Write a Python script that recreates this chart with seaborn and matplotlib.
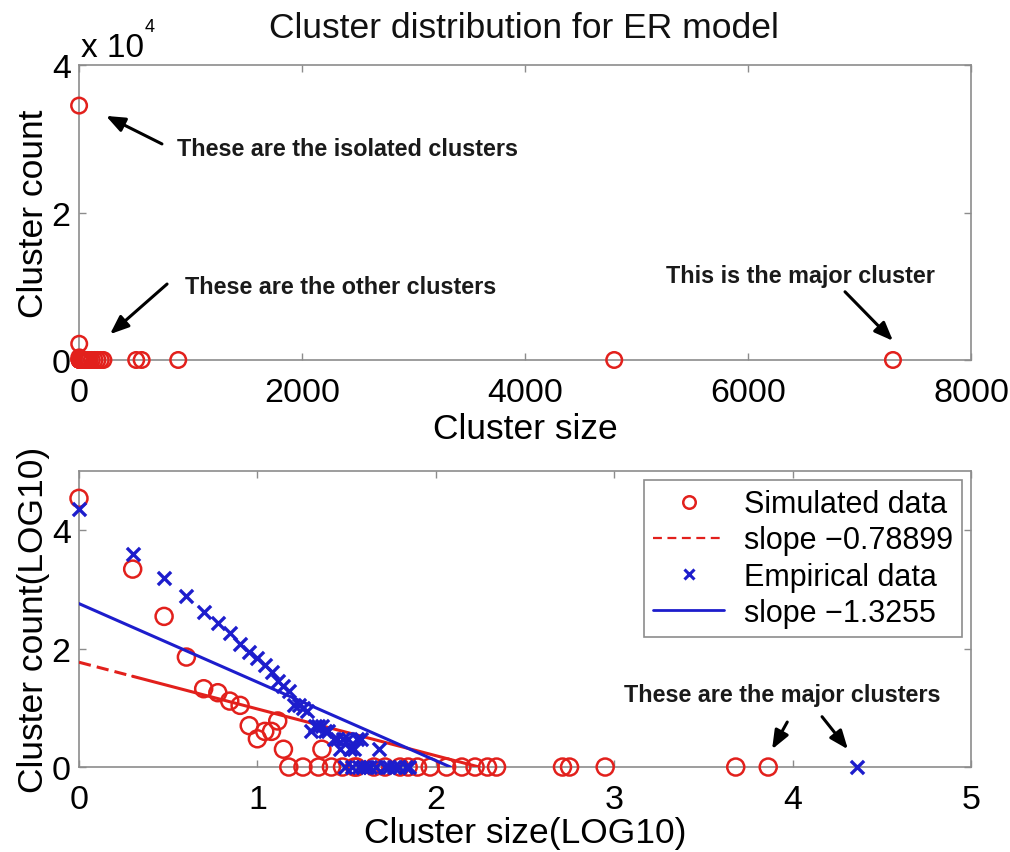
import numpy as np
import pandas as pd
import matplotlib
matplotlib.use("Agg")
import matplotlib.pyplot as plt
from matplotlib.lines import Line2D
from matplotlib.ticker import FuncFormatter
import seaborn as sns

# Simulated ER network: cluster size -> number of clusters of that size
sim_sizes = [1, 2, 3, 4, 5, 6, 7, 8, 9, 10, 11, 12, 13, 14, 15, 18, 22, 23, 26,
             30, 35, 36, 45, 52, 63, 70, 79, 93, 115, 140, 166, 195, 219,
             513, 562, 890, 4800, 7300]
sim_counts = [34500, 2200, 350, 72, 21, 18, 13, 11, 5, 3, 4, 4, 6, 2, 1, 1, 1, 2, 1,
              1, 1, 1, 1, 1, 1, 1, 1, 1, 1, 1, 1, 1, 1,
              1, 1, 1, 1, 1]

# Empirical network: cluster size -> number of clusters of that size
emp_sizes = [1, 2, 3, 4, 5, 6, 7, 8, 9, 10, 11, 12, 13, 14, 15, 16, 17, 18, 19, 20,
             21, 22, 23, 24, 25, 27, 28, 29, 30, 32, 33, 35, 36, 38, 48,
             31, 34, 37, 39, 41, 43, 46, 52, 55, 58, 62, 68, 71, 22900]
emp_counts = [23000, 4000, 1550, 780, 420, 270, 180, 120, 87, 70, 52, 40, 28, 23, 19,
              11, 11, 10, 9, 4,
              5, 5, 5, 4, 4, 3, 3, 2, 3, 3, 2, 2, 3, 3, 2,
              1, 1, 1, 1, 1, 1, 1, 1, 1, 1, 1, 1, 1, 1]

# Least-squares fits in log-log space
sim_slope, sim_intercept = -0.78899, 1.77
emp_slope, emp_intercept = -1.3255, 2.76

legend_labels = ["Simulated data", "slope \u22120.78899",
                 "Empirical data", "slope \u22121.3255"]

sns.set_theme(style="white")
plt.rcParams["font.family"] = ["Liberation Sans", "DejaVu Sans"]
plt.rcParams["text.color"] = "black"
plt.rcParams["axes.labelcolor"] = "black"

RED = "#e2201c"
BLUE = "#1d1dcc"
AXIS_GRAY = "#8c8c8c"
TEXT = "#111111"

sim = pd.DataFrame({"size": sim_sizes, "count": sim_counts})
sim["log_size"] = np.log10(sim["size"])
sim["log_count"] = np.log10(sim["count"])
emp = pd.DataFrame({"size": emp_sizes, "count": emp_counts})
emp["log_size"] = np.log10(emp["size"])
emp["log_count"] = np.log10(emp["count"])

fig = plt.figure(figsize=(10.10, 8.53), dpi=100)
ax1 = fig.add_axes([0.0782, 0.5768, 0.8832, 0.3458])
ax2 = fig.add_axes([0.0782, 0.0996, 0.8832, 0.3471])


def style_axes(ax):
    for sp in ax.spines.values():
        sp.set_color(AXIS_GRAY)
        sp.set_linewidth(1.2)
        sp.set_visible(True)
    ax.tick_params(direction="in", length=5, width=1, colors=AXIS_GRAY,
                   labelcolor="black", labelsize=24.5, top=True, right=True,
                   bottom=True, left=True)
    ax.tick_params(axis="x", pad=12)
    ax.tick_params(axis="y", pad=6)
    ax.set_facecolor("white")


# ---- Linear-scale distribution ----
sns.scatterplot(data=sim, x="size", y="count", ax=ax1, marker="o", s=125,
                facecolors="none", edgecolor=RED, linewidth=1.8,
                legend=False, clip_on=False, zorder=3)
ax1.set_xlim(0, 8000)
ax1.set_ylim(0, 40000)
ax1.set_xticks([0, 2000, 4000, 6000, 8000])
ax1.set_yticks([0, 20000, 40000])
ax1.yaxis.set_major_formatter(FuncFormatter(lambda v, p: f"{v / 1e4:g}"))
style_axes(ax1)
ax1.set_xlabel("Cluster size", fontsize=25.5, labelpad=3)
ax1.set_ylabel("Cluster count", fontsize=25.5, labelpad=1)

ax1.text(0.002, 1.03, "x 10", transform=ax1.transAxes, fontsize=24,
         ha="left", va="baseline", color="black")
ax1.text(0.074, 1.115, "4", transform=ax1.transAxes, fontsize=13,
         ha="left", va="baseline", color="black")

fig.text(0.519, 1 - 38 / 853, "Cluster distribution for ER model",
         fontsize=25.5, ha="center", va="baseline", color=TEXT)

arrow_kw = dict(arrowstyle="-|>,head_length=0.75,head_width=0.3",
                mutation_scale=15, lw=2.2, color="black",
                shrinkA=0, shrinkB=0)
note_kw = dict(fontsize=16.8, fontweight="bold", color="#1a1a1a")

ax1.text(880, 28700, "These are the isolated clusters", ha="left",
         va="center", **note_kw)
ax1.annotate("", xy=(242, 33100), xytext=(744, 29300), arrowprops=arrow_kw)
ax1.text(950, 9900, "These are the other clusters", ha="left",
         va="center", **note_kw)
ax1.annotate("", xy=(278, 3500), xytext=(790, 10300), arrowprops=arrow_kw)
ax1.text(6470, 11400, "This is the major cluster", ha="center",
         va="center", **note_kw)
ax1.annotate("", xy=(7300, 2600), xytext=(6870, 9250), arrowprops=arrow_kw)

# ---- Log-log distribution ----
sns.scatterplot(data=sim, x="log_size", y="log_count", ax=ax2, marker="o",
                s=150, facecolors="none", edgecolor=RED, linewidth=1.8,
                legend=False, clip_on=False, zorder=3)

sim_x_end = -sim_intercept / sim_slope
xs_dash = np.array([0.0, np.log10(2)])
xs_solid = np.array([np.log10(2), sim_x_end])
sns.lineplot(x=xs_dash, y=sim_intercept + sim_slope * xs_dash, ax=ax2,
             color=RED, lw=2.2, dashes=False, linestyle=(0, (4, 2)),
             legend=False, zorder=4)
sns.lineplot(x=xs_solid, y=sim_intercept + sim_slope * xs_solid, ax=ax2,
             color=RED, lw=2.2, legend=False, zorder=4)

sns.scatterplot(data=emp, x="log_size", y="log_count", ax=ax2, marker="x",
                s=90, color=BLUE, linewidth=2.4, legend=False,
                clip_on=False, zorder=5)
emp_x_end = -emp_intercept / emp_slope
xs_emp = np.array([0.0, emp_x_end])
sns.lineplot(x=xs_emp, y=emp_intercept + emp_slope * xs_emp, ax=ax2,
             color=BLUE, lw=2.2, legend=False, zorder=6)

ax2.set_xlim(0, 5)
ax2.set_ylim(0, 5)
ax2.set_xticks([0, 1, 2, 3, 4, 5])
ax2.set_yticks([0, 2, 4])
style_axes(ax2)
ax2.set_xlabel("Cluster size(LOG10)", fontsize=25.5, labelpad=1)
ax2.set_ylabel("Cluster count(LOG10)", fontsize=25.5, labelpad=1)

handles = [
    Line2D([], [], marker="o", ls="none", mfc="none", mec=RED, ms=9, mew=1.8),
    Line2D([], [], color=RED, lw=1.6, ls=(0, (4, 2.5))),
    Line2D([], [], marker="x", ls="none", color=BLUE, ms=7, mew=2.2),
    Line2D([], [], color=BLUE, lw=2.0),
]
leg = ax2.legend(handles, legend_labels, loc="upper right", fontsize=22,
                 frameon=True, fancybox=False, framealpha=1,
                 edgecolor=AXIS_GRAY, borderaxespad=0.3, labelspacing=0.2,
                 handlelength=2.3, handletextpad=0.65, borderpad=0.3)
leg.get_frame().set_linewidth(1.2)

ax2.text(3.94, 1.23, "These are the major clusters", ha="center",
         va="center", **note_kw)
ax2.annotate("", xy=(3.885, 0.30), xytext=(3.97, 0.76), arrowprops=arrow_kw)
ax2.annotate("", xy=(4.31, 0.30), xytext=(4.165, 0.85), arrowprops=arrow_kw)

fig.savefig("out.png", dpi=100, facecolor="white")
